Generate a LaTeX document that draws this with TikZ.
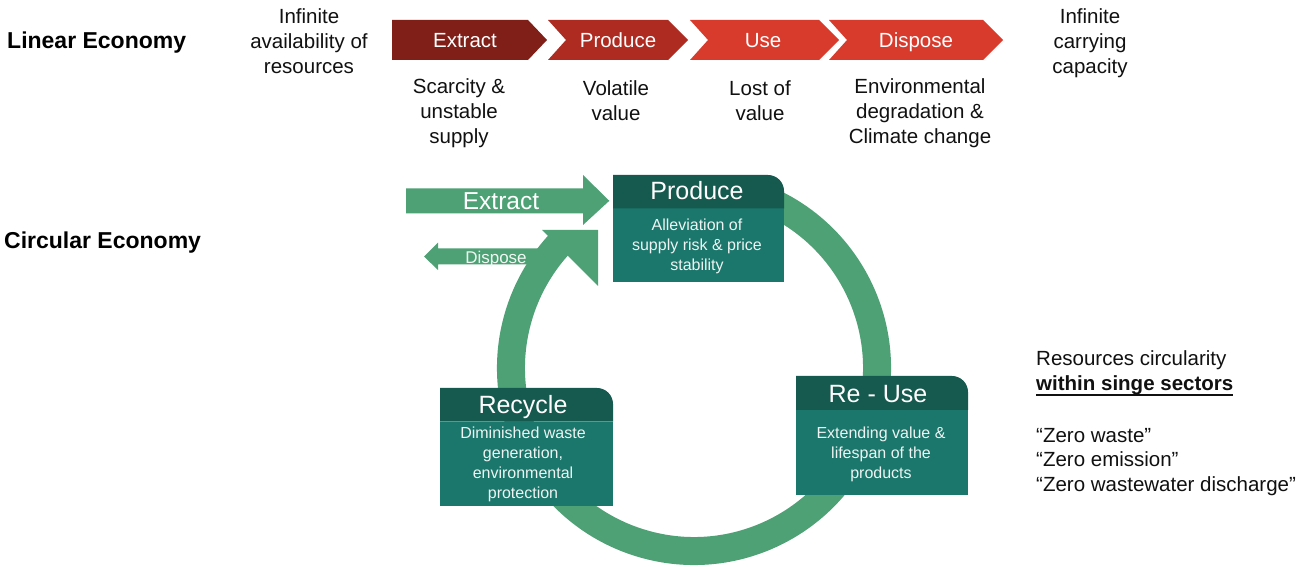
\documentclass[tikz,border=0pt]{standalone}
\usepackage{fontspec}
\setmainfont{Liberation Sans}
\newcommand\fsz[2]{\fontsize{#1}{#2}\selectfont}
\definecolor{cExtract}{HTML}{801F18}
\definecolor{cProduce}{HTML}{AE2B22}
\definecolor{cUse}{HTML}{D83A2C}
\definecolor{cGreen}{HTML}{4DA174}
\definecolor{cHead}{HTML}{165A4F}
\definecolor{cBody}{HTML}{1B776B}
\definecolor{ink}{HTML}{111111}
\begin{document}
\begin{tikzpicture}[x=1pt,y=1pt,
  lbl/.style={inner sep=0pt, align=center, text=ink, font=\fsz{20.5}{25}},
  title/.style={inner sep=0pt, anchor=west, text=black, font=\bfseries\fsz{23}{27}},
  chevtext/.style={inner sep=0pt, text=white, font=\fsz{20.5}{24},
    text height=15, text depth=5},
  headtext/.style={inner sep=0pt, text=white, font=\fsz{25}{29},
    text height=18, text depth=6},
  bodytext/.style={inner sep=0pt, align=center, text=white!92!cBody, font=\fsz{16}{20}},
  sidetext/.style={inner sep=0pt, anchor=west, text=ink, font=\fsz{20.5}{24},
    text height=14, text depth=4},
  ring/.style={draw=cGreen, line width=28pt},
]
\useasboundingbox (0,0) rectangle (1301,567);
\fill[white] (0,0) rectangle (1301,567);

% ---------- linear economy ----------
\node[title] (lin) at (7,524.5) {Linear Economy};
\node[lbl] (inf1) at (309,525.5) {Infinite\\availability of\\resources};
\node[lbl] (inf2) at (1090,523.5) {Infinite\\carrying\\capacity};

\fill[cExtract] (392,547) -- (528,547) -- (547,527) -- (528,507) -- (392,507) -- cycle;
\fill[cProduce] (548,547) -- (668,547) -- (688,527) -- (668,507) -- (548,507) -- (566,527) -- cycle;
\fill[cUse] (690,547) -- (819,547) -- (839,527) -- (819,507) -- (690,507) -- (708,527) -- cycle;
\fill[cUse] (829,547) -- (983,547) -- (1003,527) -- (983,507) -- (829,507) -- (847,527) -- cycle;

\node[chevtext] (cx) at (465,524.7) {Extract};
\node[chevtext] (cp) at (618,524.7) {Produce};
\node[chevtext] (cu) at (763,524.7) {Use};
\node[chevtext] (cd) at (916,524.7) {Dispose};

\node[lbl] (sx) at (459,454) {Scarcity \&\\unstable\\supply};
\node[lbl] (sp) at (616,466.5) {Volatile\\value};
\node[lbl] (su) at (760,466.5) {Lost of\\value};
\node[lbl] (sd) at (920,454) {Environmental\\degradation \&\\Climate change};

% ---------- circular economy ----------
\node[title] (circ) at (4,324.5) {Circular Economy};

% dispose arrow (leaves the loop towards the left)
\fill[cGreen] (545,318.7) -- (438,318.7) -- (438,324.3) -- (424,310.5) -- (438,297) -- (438,302.7) -- (545,302.7) -- cycle;

% the loop: produce -> re-use -> recycle -> produce
\coordinate (c0) at (694,199);
\draw[ring] (c0) ++(72:183) arc[start angle=72, end angle=-224, radius=183];
\fill[cGreen] (542,337) -- (598,337) -- (598,281) -- cycle;

\node[inner sep=0pt, text=white!92!cGreen, font=\fsz{17}{20}] (dsp) at (496,308) {Dispose};

% extract arrow
\fill[cGreen] (406,378.7) -- (583,378.7) -- (583,392) -- (609.3,366.2) -- (583,342) -- (583,353.7) -- (406,353.7) -- cycle;
\node[inner sep=0pt, text=white, font=\fsz{24.5}{28}] (ext) at (501,366) {Extract};

% stage boxes: dark header on top of a lighter body, top right corner rounded
\newcommand\stagebox[5]{% x0, x1, y0 (bottom), ymid (header bottom), y1 (top)
  \fill[cBody] (#1,#3) rectangle (#2,#4);
  \fill[cHead] (#1,#4) -- (#1,#5) -- ({#2-16},#5) arc[start angle=90, end angle=0, radius=16] -- (#2,#4) -- cycle;
}
\stagebox{613}{784}{285}{358.7}{392}
\stagebox{796}{968}{72}{157}{191}
\stagebox{440}{613}{60.5}{145.3}{179}

\node[headtext] (hp) at (697,373) {Produce};
\node[bodytext] (bp) at (697,321) {Alleviation of\\supply risk \& price\\stability};

\node[headtext] (hu) at (878,170) {Re - Use};
\node[bodytext] (bu) at (881,113) {Extending value \&\\lifespan of the\\products};

\node[headtext] (hr) at (523,159) {Recycle};
\node[bodytext] (br) at (523,103) {Diminished waste\\generation,\\environmental\\protection};

% side notes
\node[sidetext] (n1) at (1036,206.5) {Resources circularity};
\node[sidetext] (n2) at (1036,181.5) {\textbf{within singe sectors}};
\draw[line width=1.6pt, ink] (n2.base west) ++(0,-4.5) -- ([yshift=-4.5pt]n2.base east);
\node[sidetext] (n3) at (1036,129.5) {“Zero waste”};
\node[sidetext] (n4) at (1036,105.5) {“Zero emission”};
\node[sidetext] (n5) at (1036,80.5) {“Zero wastewater discharge”};
\end{tikzpicture}
\end{document}
